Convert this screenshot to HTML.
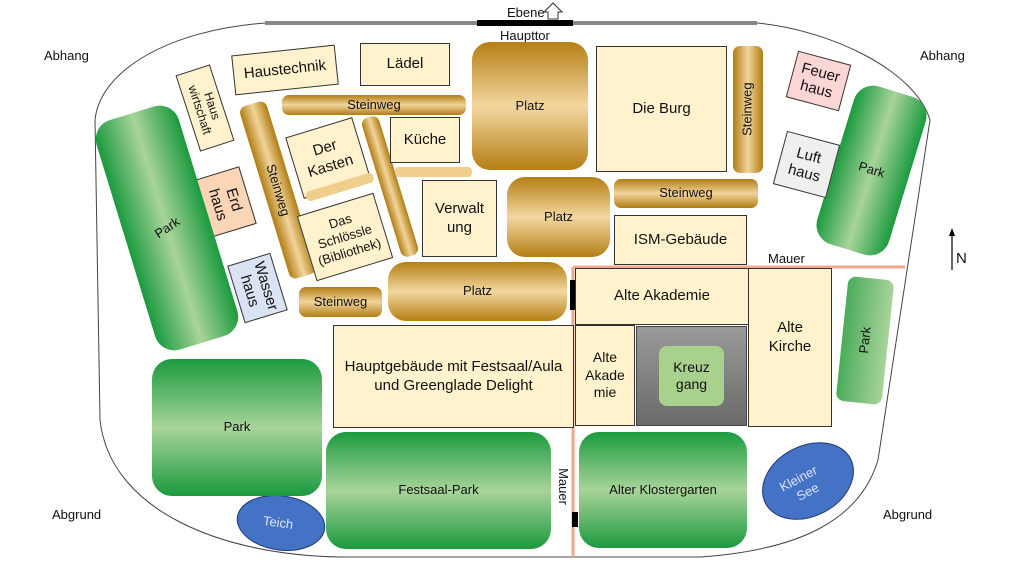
<!DOCTYPE html>
<html><head><meta charset="utf-8"><style>
body{margin:0;width:1024px;height:576px;background:#fff;position:relative;overflow:hidden;font-family:"Liberation Sans",sans-serif;color:#111}
.a{position:absolute;box-sizing:border-box;display:flex;align-items:center;justify-content:center;text-align:center;line-height:1.25}
.b{background:#fff2cc;border:1.5px solid #333}
.g{border-radius:7px;background:linear-gradient(180deg,#b07d14 0%,#f2d49a 50%,#b07d14 100%)}
.gv{border-radius:7px;background:linear-gradient(90deg,#b07d14 0%,#f2d49a 50%,#b07d14 100%)}
.p{border-radius:18px;background:linear-gradient(180deg,#b57f14 0%,#f3d7a0 50%,#b57f14 100%)}
.gr{border-radius:20px;background:linear-gradient(180deg,#1b9a3e 0%,#a8d49a 50%,#1b9a3e 100%)}
.grh{border-radius:20px;background:linear-gradient(90deg,#1b9a3e 0%,#a8d49a 50%,#1b9a3e 100%)}
.t{position:absolute;font-size:13px;white-space:nowrap}
</style></head><body>
<svg width="1024" height="576" style="position:absolute;left:0;top:0">
<path d="M265,23 C170,30 100,70 95,120 L100,420 C110,510 220,555 340,557 L700,557 C800,550 860,520 878,460 L930,120 C915,70 830,30 757,23" fill="none" stroke="#444" stroke-width="1"/>
<line x1="265" y1="23" x2="757" y2="23" stroke="#888" stroke-width="4"/>
<line x1="477" y1="23" x2="573" y2="23" stroke="#000" stroke-width="6"/>
<path d="M548,19 L548,12 L544,12 L553,3 L562,12 L558,12 L558,19 Z" fill="#fff" stroke="#333" stroke-width="1"/>
<line x1="573" y1="267" x2="905" y2="267" stroke="#f0a88e" stroke-width="3"/>
<line x1="573" y1="267" x2="573" y2="557" stroke="#f0a88e" stroke-width="3"/>
<rect x="570" y="280" width="5" height="30" fill="#000"/>
<rect x="572" y="512" width="6" height="15" fill="#000"/>
<line x1="952" y1="270" x2="952" y2="232" stroke="#000" stroke-width="1.2"/>
<path d="M949,236 L952,228 L955,236 Z" fill="#000"/>
<ellipse cx="281" cy="523" rx="44" ry="27" fill="#4472c4" stroke="#1f3a70" transform="rotate(8 281 523)"/>
<ellipse cx="808" cy="481" rx="48" ry="35" fill="#4472c4" stroke="#1f3a70" transform="rotate(-28 808 481)"/>
</svg>
<div class="t" style="left:507px;top:5px">Ebene</div>
<div class="t" style="left:500px;top:28px">Haupttor</div>
<div class="t" style="left:44px;top:48px">Abhang</div>
<div class="t" style="left:920px;top:48px">Abhang</div>
<div class="t" style="left:52px;top:507px">Abgrund</div>
<div class="t" style="left:883px;top:507px">Abgrund</div>
<div class="t" style="left:956px;top:250px;font-size:15px">N</div>
<div class="t" style="left:768px;top:251px">Mauer</div>
<div class="t" style="left:545px;top:479px;transform:rotate(90deg)">Mauer</div>
<div class="t" style="left:263px;top:515px;color:#dde6ff;transform:rotate(8deg)">Teich</div>
<div class="t" style="left:782px;top:470px;color:#dde6ff;transform:rotate(-28deg);text-align:center;line-height:1.2">Kleiner<br>&nbsp;See</div>

<div class="a b" style="left:233px;top:50px;width:104px;height:40px;transform:rotate(-6deg);font-size:15px">Haustechnik</div>
<div class="a b" style="left:360px;top:43px;width:90px;height:43px;font-size:15px">Lädel</div>
<div class="a b" style="left:187px;top:68px;width:36px;height:80px;transform:rotate(-18deg)"><span style="transform:rotate(90deg);font-size:12px;line-height:1.1;white-space:nowrap">Haus<br>wirtschaft</span></div>
<div class="a g" style="left:282px;top:95px;width:184px;height:20px;font-size:13px">Steinweg</div>
<div class="a gv" style="left:264px;top:100px;width:28px;height:180px;transform:rotate(-17deg)"><span style="transform:rotate(90deg);font-size:13px">Steinweg</span></div>
<div class="a b" style="left:293px;top:126px;width:70px;height:64px;transform:rotate(-17deg);font-size:15px">Der<br>Kasten</div>
<div class="a" style="left:305px;top:182px;width:70px;height:10px;border-radius:4px;background:#f0cf8c;transform:rotate(-17deg)"></div>
<div class="a b" style="left:305px;top:203px;width:80px;height:68px;transform:rotate(-17deg);font-size:13px">Das<br>Schlössle<br>(Bibliothek)</div>
<div class="a gv" style="left:381px;top:114px;width:18px;height:145px;transform:rotate(-17deg)"></div>
<div class="a b" style="left:390px;top:117px;width:70px;height:46px;font-size:15px">Küche</div>
<div class="a" style="left:395px;top:167px;width:77px;height:10px;border-radius:4px;background:#f0cf8c"></div>
<div class="a b" style="left:422px;top:180px;width:75px;height:77px;font-size:15px">Verwalt<br>ung</div>
<div class="a" style="left:201px;top:172px;width:48px;height:60px;background:#fbd5b5;border:1.5px solid #333;transform:rotate(-17deg)"><span style="transform:rotate(90deg);font-size:15px;line-height:1.1">Erd<br>haus</span></div>
<div class="a grh" style="left:124px;top:108px;width:86px;height:240px;transform:rotate(-17deg)"><span style="transform:rotate(-17deg);font-size:13px">Park</span></div>
<div class="a" style="left:235px;top:258px;width:45px;height:60px;background:#dae3f3;border:1.5px solid #333;transform:rotate(-17deg)"><span style="transform:rotate(90deg);font-size:15px;line-height:1.1">Wasser<br>haus</span></div>
<div class="a g" style="left:299px;top:287px;width:83px;height:30px;font-size:13px">Steinweg</div>
<div class="a p" style="left:388px;top:262px;width:179px;height:59px;font-size:13px">Platz</div>
<div class="a p" style="left:472px;top:42px;width:116px;height:128px;font-size:13px">Platz</div>
<div class="a p" style="left:507px;top:177px;width:103px;height:80px;font-size:13px">Platz</div>
<div class="a b" style="left:596px;top:46px;width:131px;height:126px;font-size:15px">Die Burg</div>
<div class="a gv" style="left:733px;top:46px;width:30px;height:127px"><span style="transform:rotate(-90deg);font-size:13px">Steinweg</span></div>
<div class="a g" style="left:614px;top:179px;width:144px;height:29px;font-size:13px">Steinweg</div>
<div class="a b" style="left:614px;top:215px;width:133px;height:50px;font-size:15px">ISM-Gebäude</div>
<div class="a b" style="left:575px;top:268px;width:174px;height:57px;font-size:15px">Alte Akademie</div>
<div class="a b" style="left:748px;top:268px;width:84px;height:159px;font-size:15px;padding-bottom:20px">Alte<br>Kirche</div>
<div class="a b" style="left:575px;top:325px;width:60px;height:101px;font-size:14px">Alte<br>Akade<br>mie</div>
<div class="a" style="left:636px;top:326px;width:111px;height:100px;background:linear-gradient(180deg,#9a9a9a,#6a6a6a);border:1px solid #444"><div class="a" style="position:static;width:65px;height:60px;border-radius:8px;background:#a9d18e;font-size:14px">Kreuz<br>gang</div></div>
<div class="a b" style="left:333px;top:325px;width:241px;height:103px;font-size:15px">Hauptgebäude mit Festsaal/Aula<br>und Greenglade Delight</div>
<div class="a grh" style="left:842px;top:278px;width:46px;height:125px;border-radius:8px;transform:rotate(6deg);background:linear-gradient(90deg,#4aac5a,#a8d49a)"><span style="transform:rotate(-90deg);font-size:13px">Park</span></div>
<div class="a grh" style="left:834px;top:88px;width:75px;height:165px;transform:rotate(17deg)"><span style="transform:rotate(0deg);font-size:13px">Park</span></div>
<div class="a" style="left:791px;top:57px;width:55px;height:48px;background:#fcd5d5;border:1.5px solid #333;transform:rotate(15deg);font-size:15px;line-height:1.15">Feuer<br>haus</div>
<div class="a" style="left:779px;top:137px;width:55px;height:55px;background:#efefef;border:1.5px solid #333;transform:rotate(15deg);font-size:15px;line-height:1.15">Luft<br>haus</div>
<div class="a gr" style="left:152px;top:359px;width:170px;height:137px;font-size:13px">Park</div>
<div class="a gr" style="left:326px;top:432px;width:225px;height:117px;font-size:13px">Festsaal-Park</div>
<div class="a gr" style="left:579px;top:432px;width:168px;height:116px;font-size:13px">Alter Klostergarten</div>
</body></html>
